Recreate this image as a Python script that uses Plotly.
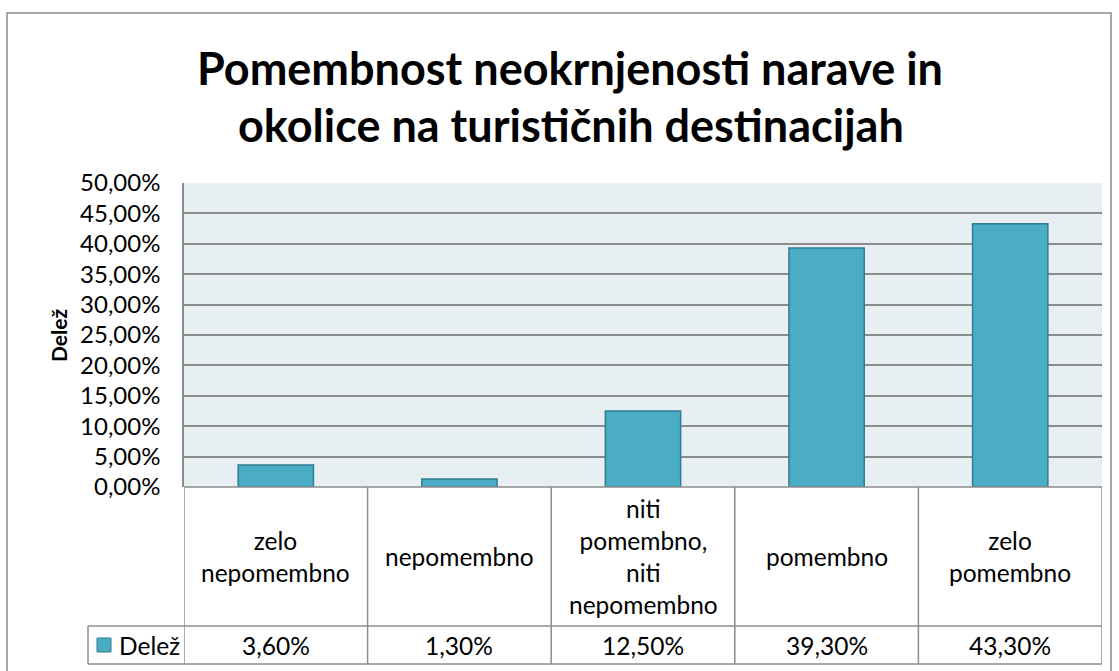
import plotly.graph_objects as go

categories = ["zelo nepomembno", "nepomembno", "niti pomembno, niti nepomembno", "pomembno", "zelo pomembno"]
table_labels = ["zelo<br>nepomembno", "nepomembno", "niti<br>pomembno,<br>niti<br>nepomembno", "pomembno", "zelo<br>pomembno"]
values = [0.036, 0.013, 0.125, 0.393, 0.433]
value_labels = ["3,60%", "1,30%", "12,50%", "39,30%", "43,30%"]
series_name = "Delež"
title_lines = ["Pomembnost neokrnjenosti narave in", "okolice na turističnih destinacijah"]

W, H = 1119, 671
L, R, T, B = 184, 1102, 183, 487
pw, ph = R - L, B - T

def px(x):
    return (x - L) / pw

def py(y):
    return (B - y) / ph

FONT = "Lato"
GRID = "#8c8c8c"
BAR = "#4bacc6"
BAR_LINE = "#2f7d92"
TXT = 24.5

fig = go.Figure()
fig.add_trace(go.Bar(
    x=list(range(len(categories))), y=values, name=series_name,
    marker=dict(color=BAR, line=dict(color=BAR_LINE, width=1.5)),
    hovertext=categories,
))

shapes = []
# outer chart border
shapes.append(dict(type="rect", xref="paper", yref="paper", x0=px(7), x1=px(1111), y0=py(13), y1=py(700),
                   line=dict(color="#8a8a8a", width=1.5), fillcolor="rgba(0,0,0,0)", layer="above"))
# table lines
n = len(categories)
row1, row2 = py(626), py(664)
for i in range(n + 1):
    shapes.append(dict(type="line", xref="x", yref="paper", x0=i - 0.5, x1=i - 0.5, y0=0, y1=row2,
                       line=dict(color=GRID, width=1.5)))
shapes.append(dict(type="line", xref="paper", yref="paper", x0=px(88), x1=1, y0=row1, y1=row1,
                   line=dict(color=GRID, width=1.5)))
shapes.append(dict(type="line", xref="paper", yref="paper", x0=px(88), x1=1, y0=row2, y1=row2,
                   line=dict(color=GRID, width=1.5)))
shapes.append(dict(type="line", xref="paper", yref="paper", x0=px(88), x1=px(88), y0=row1, y1=row2,
                   line=dict(color=GRID, width=1.5)))
shapes.append(dict(type="line", xref="paper", yref="paper", x0=0, x1=1, y0=0, y1=0,
                   line=dict(color=GRID, width=1.5)))
# legend key
shapes.append(dict(type="rect", xref="paper", yref="paper", x0=px(97), x1=px(111), y0=py(638), y1=py(652),
                   fillcolor=BAR, line=dict(color=BAR_LINE, width=1)))

annotations = []
for i, (lab, val) in enumerate(zip(table_labels, value_labels)):
    annotations.append(dict(x=i, y=py(556.5), xref="x", yref="paper", text=lab, showarrow=False,
                            xanchor="center", yanchor="middle",
                            font=dict(family=FONT, size=TXT, color="#000000"), align="center"))
    annotations.append(dict(x=i, y=py(645), xref="x", yref="paper", text=val, showarrow=False,
                            xanchor="center", yanchor="middle",
                            font=dict(family=FONT, size=TXT, color="#000000")))
annotations.append(dict(x=px(117), y=py(645), xref="paper", yref="paper", text=series_name, showarrow=False,
                        xanchor="left", yanchor="middle", font=dict(family=FONT, size=TXT, color="#000000")))
annotations.append(dict(x=px(58), y=0.5, xref="paper", yref="paper", text="<b>" + series_name + "</b>",
                        showarrow=False, textangle=-90, xanchor="center", yanchor="middle",
                        font=dict(family=FONT, size=21, color="#000000")))
annotations.append(dict(x=px(570), y=py(68), xref="paper", yref="paper", text="<b>" + title_lines[0] + "</b>",
                        showarrow=False, xanchor="center", yanchor="middle",
                        font=dict(family=FONT, size=45, color="#000000")))
annotations.append(dict(x=px(571), y=py(125), xref="paper", yref="paper", text="<b>" + title_lines[1] + "</b>",
                        showarrow=False, xanchor="center", yanchor="middle",
                        font=dict(family=FONT, size=45, color="#000000")))

fig.update_layout(
    width=W, height=H,
    margin=dict(l=L, r=W - R, t=T, b=H - B, pad=0),
    paper_bgcolor="#ffffff", plot_bgcolor="#e8eff3",
    separators=",.",
    showlegend=False,
    bargap=0.59,
    shapes=shapes, annotations=annotations,
    font=dict(family=FONT, size=TXT, color="#000000"),
)
fig.update_xaxes(range=[-0.5, n - 0.5], showticklabels=False, showgrid=False, zeroline=False,
                 showline=False, fixedrange=True)
fig.update_yaxes(range=[0, 0.5], dtick=0.05, tickformat=".2%", showgrid=True, gridcolor=GRID, gridwidth=1.5,
                 zeroline=False, showline=True, linecolor=GRID, linewidth=1.5, ticks="",
                 ticklabelstandoff=17, tickfont=dict(family=FONT, size=24, color="#000000"))

fig.write_html("out.html", config={"displayModeBar": False},
               post_script="document.body.style.margin='0';document.body.style.overflow='hidden';")
